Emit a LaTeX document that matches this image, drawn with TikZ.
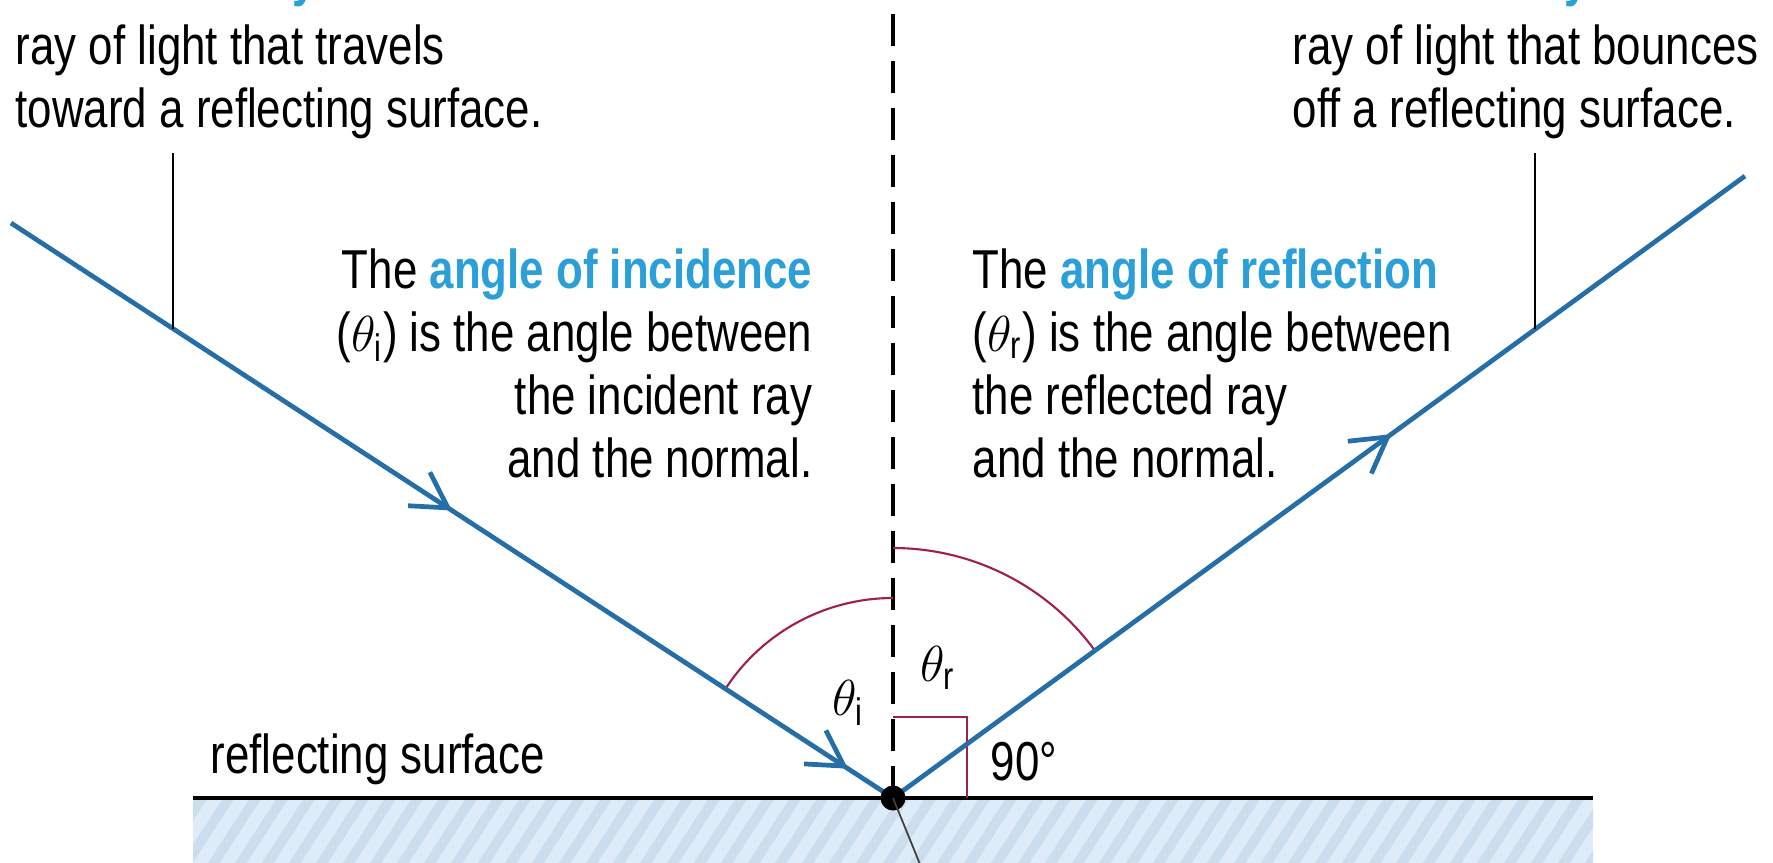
\documentclass[tikz,border=0pt]{standalone}
\usepackage{amsmath}
\usepackage{fontspec}
\setmainfont{Liberation Sans}[FakeStretch=0.8]
\usepackage{tikz}
\usetikzlibrary{arrows.meta,calc,decorations.markings}

\definecolor{raycol}{RGB}{38,110,168}
\definecolor{termcol}{RGB}{43,160,216}
\definecolor{arccol}{RGB}{160,32,75}
\definecolor{hatchcol}{RGB}{222,236,250}
\definecolor{stripecol}{RGB}{204,221,238}

\tikzset{barb/.tip={Straight Barb[angle=60:0.4cm]}}

\begin{document}
\begin{tikzpicture}[scale=1.0,
    every node/.style={inner sep=0pt, font=\fontsize{15.6}{17.9}\selectfont},
    lightray/.style={raycol, line width=1.35pt},
    leader/.style={black, line width=0.7pt},
    anglearc/.style={arccol, line width=0.6pt},
    term/.style={termcol, font=\fontsize{15.6}{17.9}\selectfont\bfseries}]
    \useasboundingbox (-8.93,-0.64) rectangle (8.80,7.98);

    % Point of incidence and ray ends
    \coordinate (O) at (0,0);
    \coordinate (A) at (-8.82,5.75);
    \coordinate (B) at (8.52,6.22);
    \coordinate (sl) at (-7,0);
    \coordinate (sr) at (7,0);
    \coordinate (ntop) at (0,8.3);
    \coordinate (pinc) at (0.31,-0.76);

    % Mirror (hatched)
    \begin{scope}
      \clip (-7,-0.8) rectangle (7,0);
      \fill[hatchcol] (-7,-0.8) rectangle (7,0);
      \foreach \x in {-7.7,-7.43,...,7.0}
        \draw[stripecol, line width=2.8pt] (\x,-0.8) -- ++(57:1.2);
    \end{scope}
    \draw[black, line width=0.9pt] (sl) -- (sr);
    \node[anchor=base west] (surf) at (-6.83,0.25) {reflecting surface};

    % Normal
    \draw[black, line width=0.9pt, dash pattern=on 0.32cm off 0.15cm] (O) -- (ntop);

    % Angles and right angle
    \draw[anglearc] (0,2.0) arc[start angle=90, end angle=146.9, radius=2.0];
    \draw[anglearc] (0,2.5) arc[start angle=90, end angle=36.1, radius=2.5];
    \draw[anglearc, line width=0.8pt] (0,0.81) -- (0.74,0.81) -- (0.74,0);
    \node (thi) at (-0.45,0.95) {\(\theta_{\text{i}}\)};
    \node (thr) at (0.45,1.30) {\(\theta_{\text{r}}\)};
    \node[anchor=base west] (rt) at (0.97,0.18) {90°};

    % Incident and reflected rays
    \draw[lightray, postaction={decorate}, decoration={markings,
        mark=at position 0.5 with {\arrow{barb}},
        mark=at position 0.949 with {\arrow{barb}}}] (A) -- (O);
    \draw[lightray, postaction={decorate}, decoration={markings,
        mark=at position 0.585 with {\arrow{barb}}}] (O) -- (B);
    \fill (O) circle (0.125);
    \draw[black!75, line width=0.5pt] (O) -- (pinc);

    % Leaders to the rays
    \coordinate (ltop) at (-7.20,6.45);
    \coordinate (lfoot) at ($(A)!0.1837!(O)$);
    \draw[leader] (lfoot |- ltop) -- (lfoot);
    \coordinate (rtop) at (6.42,6.45);
    \coordinate (rfoot) at ($(O)!0.7535!(B)$);
    \draw[leader] (rfoot |- rtop) -- (rfoot);

    % Descriptions at the top
    \node[term, anchor=base east] (incterm) at (-5.75,8.02) {incident ray};
    \node[anchor=north west, align=left] (incdesc) at (-8.78,7.74)
      {ray of light that travels\\toward a reflecting surface.};
    \node[term, anchor=base east] (refterm) at (6.97,8.02) {reflected ray};
    \node[anchor=north west, align=left] (refdesc) at (3.99,7.74)
      {ray of light that bounces\\off a reflecting surface.};

    % Angle descriptions
    \node[anchor=north east, align=right] (angi) at (-0.80,5.50)
      {The \textcolor{termcol}{\textbf{angle of incidence}}\\(\(\theta_{\text{i}}\)) is the angle between\\the incident ray\\and the normal.};
    \node[anchor=north west, align=left] (angr) at (0.79,5.50)
      {The \textcolor{termcol}{\textbf{angle of reflection}}\\(\(\theta_{\text{r}}\)) is the angle between\\the reflected ray\\and the normal.};
\end{tikzpicture}
\end{document}
